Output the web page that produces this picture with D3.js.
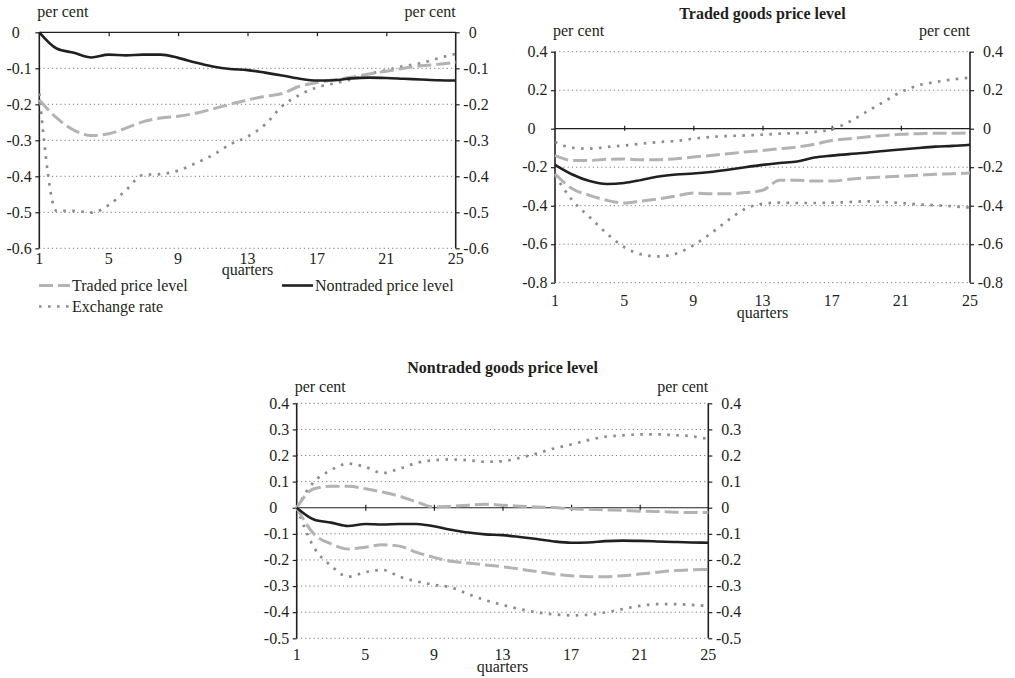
<!DOCTYPE html>
<html>
<head>
<meta charset="utf-8">
<script src="https://cdn.jsdelivr.net/npm/d3@7"></script>
<style>
  html, body { margin: 0; padding: 0; background: #fff; }
  svg text { font-family: "Liberation Serif", "Times New Roman", serif; fill: #231f20; }
</style>
</head>
<body>
<svg id="chart" width="1015" height="678"></svg>
<script>
// ---------- data ----------
const quarters = d3.range(1, 26);
const xTickValues = [1, 5, 9, 13, 17, 21, 25];

const nontradedPrice = [0, -0.045, -0.057, -0.070, -0.062, -0.064, -0.062, -0.062, -0.071, -0.084,
  -0.095, -0.102, -0.105, -0.112, -0.120, -0.129, -0.134, -0.133, -0.128, -0.126,
  -0.127, -0.129, -0.131, -0.133, -0.134];
const tradedPrice = [-0.188, -0.238, -0.272, -0.287, -0.282, -0.266, -0.248, -0.238, -0.233, -0.225,
  -0.213, -0.200, -0.188, -0.178, -0.170, -0.150, -0.140, -0.132, -0.125, -0.116,
  -0.108, -0.100, -0.093, -0.089, -0.083];
const exchangeRate = [-0.17, -0.496, -0.496, -0.501, -0.480, -0.438, -0.396, -0.394, -0.384, -0.364,
  -0.341, -0.311, -0.290, -0.257, -0.205, -0.174, -0.153, -0.142, -0.131, -0.116,
  -0.105, -0.094, -0.086, -0.072, -0.060];

// Traded goods price level: bands
const tradedInnerUpper = [-0.139, -0.165, -0.165, -0.159, -0.158, -0.161, -0.161, -0.156, -0.147, -0.139,
  -0.130, -0.121, -0.113, -0.104, -0.095, -0.081, -0.061, -0.052, -0.043, -0.035,
  -0.029, -0.026, -0.023, -0.023, -0.021];
const tradedInnerLower = [-0.234, -0.312, -0.346, -0.372, -0.386, -0.376, -0.364, -0.350, -0.334, -0.338,
  -0.338, -0.332, -0.320, -0.268, -0.268, -0.272, -0.272, -0.263, -0.256, -0.251,
  -0.246, -0.242, -0.237, -0.234, -0.230];
const tradedOuterUpper = [-0.069, -0.099, -0.104, -0.095, -0.087, -0.078, -0.069, -0.064, -0.052, -0.043,
  -0.038, -0.035, -0.031, -0.026, -0.023, -0.017, -0.003, 0.035, 0.087, 0.139,
  0.190, 0.225, 0.242, 0.256, 0.265];
const tradedOuterLower = [-0.242, -0.372, -0.459, -0.545, -0.615, -0.653, -0.663, -0.649, -0.606, -0.545,
  -0.476, -0.416, -0.390, -0.384, -0.386, -0.386, -0.384, -0.381, -0.377, -0.381,
  -0.386, -0.393, -0.398, -0.403, -0.410];

// Nontraded goods price level: bands
const nontradedInnerUpper = [0, 0.073, 0.082, 0.082, 0.073, 0.060, 0.044, 0.022, 0.003, 0.006,
  0.010, 0.013, 0.010, 0.006, 0.003, 0.001, -0.004, -0.006, -0.008, -0.010,
  -0.013, -0.014, -0.017, -0.018, -0.018];
const nontradedInnerLower = [0, -0.100, -0.138, -0.158, -0.151, -0.142, -0.147, -0.171, -0.190, -0.205,
  -0.212, -0.219, -0.226, -0.235, -0.244, -0.254, -0.260, -0.264, -0.264, -0.260,
  -0.254, -0.247, -0.241, -0.238, -0.236];
const nontradedOuterUpper = [0, 0.099, 0.144, 0.169, 0.156, 0.133, 0.150, 0.172, 0.182, 0.185,
  0.182, 0.176, 0.178, 0.191, 0.208, 0.227, 0.242, 0.259, 0.272, 0.277,
  0.281, 0.281, 0.278, 0.274, 0.263];
const nontradedOuterLower = [0, -0.151, -0.222, -0.264, -0.247, -0.238, -0.264, -0.282, -0.295, -0.305,
  -0.331, -0.354, -0.372, -0.388, -0.401, -0.408, -0.412, -0.410, -0.401, -0.388,
  -0.376, -0.369, -0.369, -0.372, -0.376];

const panel1Ticks = [0, -0.1, -0.2, -0.3, -0.4, -0.5, -0.6];
const panel2Ticks = [0.4, 0.2, 0, -0.2, -0.4, -0.6, -0.8];
const panel3Ticks = [0.4, 0.3, 0.2, 0.1, 0, -0.1, -0.2, -0.3, -0.4, -0.5];

const legendLabels = ["Traded price level", "Nontraded price level", "Exchange rate"];
const titles = ["Traded goods price level", "Nontraded goods price level"];

// ---------- styles ----------
const STY = {
  solid: { stroke: "#231f20", width: 2.6, dash: null },
  dashed: { stroke: "#b3b3b3", width: 3, dash: "14,5" },
  dotted: { stroke: "#8c8c8c", width: 2.7, dash: "2.6,6.4" }
};
const FS = 16;
const FONT = "'Liberation Serif', 'Times New Roman', serif";

const svg = d3.select("#chart");

function fmt(v) { return v === 0 ? "0" : v.toFixed(1); }

function txt(g, x, y, s, opts = {}) {
  const t = g.append("text").attr("x", x).attr("y", y)
    .attr("font-family", FONT).attr("font-size", opts.size || FS)
    .attr("text-anchor", opts.anchor || "start").text(s);
  if (opts.dy) t.attr("dy", opts.dy);
  if (opts.bold) t.attr("font-weight", "bold");
  return t;
}

// measure width of ".0"
const meas = txt(svg, 0, -50, ".0");
const fracW = meas.node().getComputedTextLength();
meas.remove();

function drawPanel(cfg) {
  const x = d3.scaleLinear().domain([1, 25]).range([cfg.x0, cfg.x1]);
  const y = d3.scaleLinear().domain(cfg.yDomain).range([cfg.yTop, cfg.yBot]);
  const g = svg.append("g");

  // gridlines
  cfg.ticks.forEach(t => {
    if (t === 0) return;
    g.append("line").attr("x1", cfg.x0).attr("x2", cfg.x1)
      .attr("y1", y(t)).attr("y2", y(t))
      .attr("stroke", "#7a7a7a").attr("stroke-width", 1).attr("stroke-dasharray", "1.2,3");
  });

  // axes via d3
  const leftAxis = d3.axisLeft(y).tickValues(cfg.ticks).tickSize(4).tickFormat("");
  const rightAxis = d3.axisRight(y).tickValues(cfg.ticks).tickSize(4).tickFormat("");
  [[leftAxis, cfg.x0], [rightAxis, cfg.x1]].forEach(([ax, px]) => {
    const a = g.append("g").attr("transform", `translate(${px},0)`).call(ax);
    a.select(".domain").attr("stroke", "#231f20").attr("stroke-width", 1.6)
      .attr("d", `M0,${cfg.yTop}V${cfg.yBot}`);
    a.selectAll(".tick line").attr("stroke", "#231f20").attr("stroke-width", 1.2);
  });

  // zero line and x ticks
  const y0 = y(0);
  g.append("line").attr("x1", cfg.x0).attr("x2", cfg.x1).attr("y1", y0).attr("y2", y0)
    .attr("stroke", "#231f20").attr("stroke-width", 1.2);
  const xAx = d3.axisBottom(x).tickValues(xTickValues.slice(1, -1)).tickSize(cfg.xTickDown).tickFormat("");
  const xa = g.append("g").attr("transform", `translate(0,${y0 - cfg.xTickUp})`).call(xAx);
  xa.select(".domain").remove();
  xa.selectAll(".tick line").attr("stroke", "#231f20").attr("stroke-width", 1.2)
    .attr("y2", cfg.xTickUp + cfg.xTickDown);

  // y tick labels (decimal aligned)
  cfg.ticks.forEach(t => {
    const s = fmt(t);
    const off = s.indexOf(".") < 0 ? fracW : 0;
    txt(g, cfg.x0 - 7.5 - off, y(t), s, { anchor: "end", dy: "0.33em" });
    txt(g, cfg.x1 + 33 - off, y(t), s, { anchor: "end", dy: "0.33em" });
  });

  // x tick labels
  xTickValues.forEach(q => txt(g, x(q), cfg.xLabY, q, { anchor: "middle" }));
  txt(g, (cfg.x0 + cfg.x1) / 2, cfg.quartersY, "quarters", { anchor: "middle" });

  // per cent labels
  txt(g, cfg.x0 - 2, cfg.perCentY, "per cent");
  txt(g, cfg.x1, cfg.perCentY, "per cent", { anchor: "end" });

  if (cfg.title) {
    txt(g, (cfg.x0 + cfg.x1) / 2, cfg.titleY, cfg.title, { anchor: "middle", bold: true, size: 16 });
  }

  // series
  const line = d3.line().x((d, i) => x(quarters[i])).y(d => y(d)).curve(d3.curveMonotoneX);
  cfg.series.forEach(s => {
    const st = STY[s.style];
    g.append("path").datum(s.values).attr("d", line).attr("fill", "none")
      .attr("stroke", st.stroke).attr("stroke-width", st.width)
      .attr("stroke-dasharray", st.dash).attr("stroke-linejoin", "round");
  });
  return g;
}

drawPanel({
  x0: 39.3, x1: 455.7, yTop: 32.3, yBot: 248.3, yDomain: [0, -0.6], ticks: panel1Ticks,
  xTickUp: 0, xTickDown: 4, xLabY: 263.5, quartersY: 275, perCentY: 17,
  series: [
    { values: exchangeRate, style: "dotted" },
    { values: tradedPrice, style: "dashed" },
    { values: nontradedPrice, style: "solid" }
  ]
});

drawPanel({
  x0: 555, x1: 970, yTop: 51.7, yBot: 282.7, yDomain: [0.4, -0.8], ticks: panel2Ticks,
  xTickUp: 3, xTickDown: 2, xLabY: 306, quartersY: 318, perCentY: 35.5, title: titles[0], titleY: 18.5,
  series: [
    { values: tradedOuterUpper, style: "dotted" },
    { values: tradedOuterLower, style: "dotted" },
    { values: tradedInnerUpper, style: "dashed" },
    { values: tradedInnerLower, style: "dashed" },
    { values: tradedPrice, style: "solid" }
  ]
});

drawPanel({
  x0: 296.7, x1: 708.3, yTop: 403.3, yBot: 638.3, yDomain: [0.4, -0.5], ticks: panel3Ticks,
  xTickUp: 3, xTickDown: 3, xLabY: 660, quartersY: 672, perCentY: 392, title: titles[1], titleY: 373,
  series: [
    { values: nontradedOuterUpper, style: "dotted" },
    { values: nontradedOuterLower, style: "dotted" },
    { values: nontradedInnerUpper, style: "dashed" },
    { values: nontradedInnerLower, style: "dashed" },
    { values: nontradedPrice, style: "solid" }
  ]
});

// legend
const legendItems = [
  { label: legendLabels[0], style: "dashed", x: 39, y: 285.5 },
  { label: legendLabels[1], style: "solid", x: 282, y: 285.5 },
  { label: legendLabels[2], style: "dotted", x: 39, y: 306.5 }
];
const lg = svg.append("g");
legendItems.forEach(it => {
  const st = STY[it.style];
  lg.append("line").attr("x1", it.x).attr("x2", it.x + 31).attr("y1", it.y).attr("y2", it.y)
    .attr("stroke", st.stroke).attr("stroke-width", st.width).attr("stroke-dasharray", st.dash);
  txt(lg, it.x + 33, it.y, it.label, { dy: "0.33em" });
});
</script>
</body>
</html>
